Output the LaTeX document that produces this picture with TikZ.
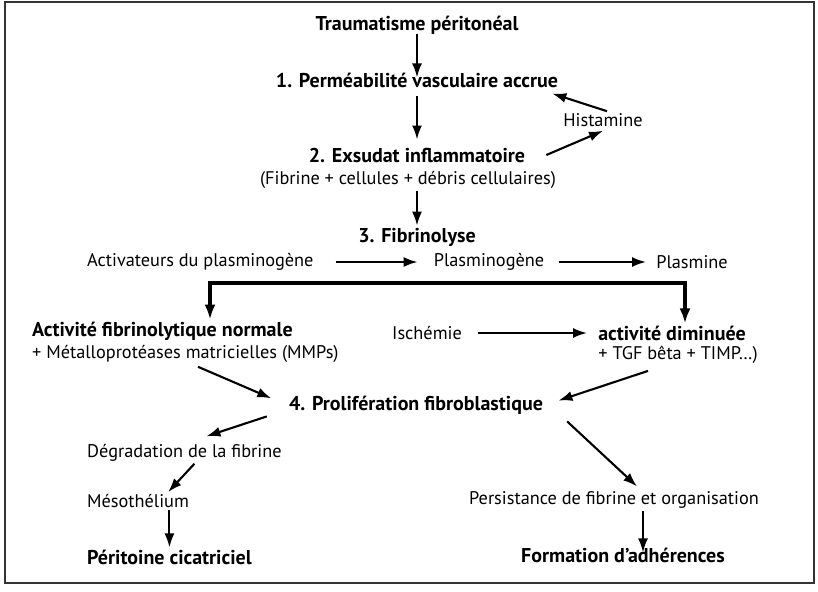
\documentclass[tikz,border=0pt]{standalone}
\usepackage{fontspec}
\setmainfont{PT Sans}
\usetikzlibrary{arrows.meta}

\tikzset{
  txt/.style={inner sep=2pt, font=\fontsize{18.3}{22}\selectfont},
  btxt/.style={inner sep=2pt, font=\fontsize{20}{24}\selectfont\bfseries},
  arr/.style={line width=2.1pt, -{Latex[length=14pt,width=10pt]}},
  bar/.style={line width=3.6pt, {Latex[length=15pt,width=11pt]}-{Latex[length=15pt,width=11pt]}},
}

\begin{document}
\begin{tikzpicture}[x=1pt,y=-1pt]
\useasboundingbox (0,0) rectangle (818,591);
\draw[line width=1.6pt, black!80] (5,2) rectangle (814,583);
% top column
\node[btxt] (trauma)   at (417,25)  {Traumatisme péritonéal};
\node[btxt] (perm)     at (417,80)  {1. Perméabilité vasculaire accrue};
\node[txt]  (hist)     at (603,120) {Histamine};
\node[btxt] (exsud)    at (417,155) {2. Exsudat inflammatoire};
\node[txt]  (fibr)     at (408,180) {(Fibrine + cellules + débris cellulaires)};
\node[btxt] (fibrino)  at (417,237) {3. Fibrinolyse};
\node[txt,anchor=west] (activ) at (85,262) {Activateurs du plasminogène};
\node[txt]  (plasmino) at (489,262) {Plasminogène};
\node[txt]  (plasmine) at (692,262) {Plasmine};
\coordinate (barL) at (210,283);
\coordinate (barR) at (685,283);
% two branches
\node[btxt,anchor=west] (normale) at (30,331) {Activité fibrinolytique normale};
\node[txt,anchor=west]  (mmp)     at (30,354) {+ Métalloprotéases matricielles (MMPs)};
\node[txt]  (isch)     at (427,333) {Ischémie};
\node[btxt] (dimin)    at (672,333) {activité diminuée};
\node[txt]  (tgf)      at (678,355) {+ TGF bêta + TIMP…)};
\node[btxt] (prolif)   at (416,405) {4. Prolifération fibroblastique};
% outcomes
\node[txt,anchor=west]  (degrad) at (85,453) {Dégradation de la fibrine};
\node[txt,anchor=west]  (meso)   at (85,501) {Mésothélium};
\node[btxt,anchor=west] (perit)  at (85,557) {Péritoine cicatriciel};
\node[txt]  (persist)  at (614,500) {Persistance de fibrine et organisation};
\node[btxt] (adher)    at (623,555) {Formation d’adhérences};

\draw[arr,shorten <=-2pt,shorten >=-7pt] (trauma) -- (perm);
\draw[arr,shorten <=6pt,shorten >=6pt] (perm) -- (exsud);
\draw[arr] (fibr.south -| fibrino) -- (fibrino);
\draw[arr] ([xshift=4pt]hist.north) -- ([xshift=-8pt,yshift=-4pt]perm.south east);
\draw[arr] ([xshift=19pt]exsud.east) -- ([yshift=-2pt]hist.south);
\draw[arr,shorten <=20pt,shorten >=14pt] (activ) -- (plasmino);
\draw[arr,shorten <=13pt,shorten >=8pt] (plasmino) -- (plasmine);
\draw[bar] (barL |- normale.north) -- (barL) -- (barR) -- (barR |- dimin.north);
\draw[arr,shorten <=14pt,shorten >=9pt] (isch) -- (dimin);
\draw[arr,shorten <=5pt,shorten >=17pt] ([xshift=8pt]mmp.south) -- (prolif.west);
\draw[arr,shorten >=14pt] ([xshift=-30pt,yshift=-5pt]tgf.south) -- (prolif.east);
\draw[arr] ([xshift=-20pt]prolif.south west) -- ([xshift=22pt,yshift=6pt]degrad.north);
\draw[arr] ([xshift=10pt]degrad.south) -- ([xshift=30pt]meso.north);
\draw[arr] (perit.north |- meso.south) -- (perit.north);
\draw[arr] ([xshift=22pt,yshift=-5pt]prolif.south east) -- ([xshift=23pt,yshift=3pt]persist.north);
\draw[arr,shorten >=-7pt] ([xshift=29pt]persist.south) -- ([xshift=20pt]adher.north);
\end{tikzpicture}
\end{document}
